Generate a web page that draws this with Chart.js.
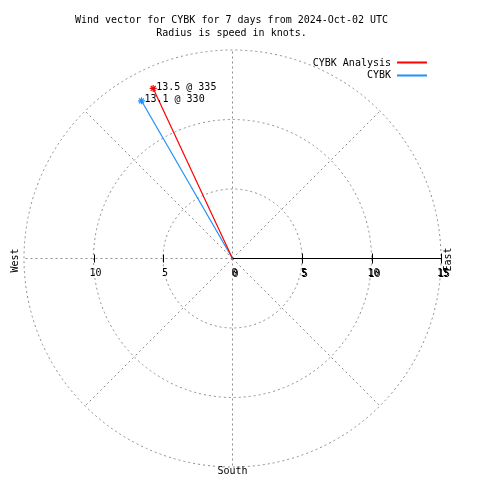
<!DOCTYPE html>
<html lang="en">
<head>
    <meta charset="UTF-8">
    <title>Wind vector for CYBK</title>
    <script src="https://cdn.jsdelivr.net/npm/chart.js"></script>
    <style>
        body { margin: 0; background: #fff; }
    </style>
</head>
<body>
    <canvas id="windChart" width="480" height="480"></canvas>

    <script>
        // Series: speed in knots, direction in degrees
        const seriesNames = ['CYBK Analysis', 'CYBK'];
        const speeds = [13.5, 13.1];
        const directions = [335, 330];
        const seriesColors = ['#ff0000', '#1e90ff'];

        // Rings and axis ticks (knots)
        const rings = [5, 10, 15];
        const westTicks = [10, 5];
        const eastTicks = [0, 5, 10, 15];
        const spokeBearings = [0, 45, 135, 180, 225, 270, 315]; // east (90) is the solid axis

        const titleLines = ['Wind vector for CYBK for 7 days from 2024-Oct-02 UTC', 'Radius is speed in knots.'];

        const FONT = '10px "DejaVu Sans Mono", monospace';

        // bearing -> x/y in knots (north up)
        function toXY(speed, dir) {
            const a = dir * Math.PI / 180;
            return { x: speed * Math.sin(a), y: speed * Math.cos(a) };
        }

        const datasets = seriesNames.map((name, i) => ({
            label: name,
            data: [{ x: 0, y: 0 }, toXY(speeds[i], directions[i])],
            showLine: true,
            borderColor: seriesColors[i],
            backgroundColor: seriesColors[i],
            borderWidth: 1.2,
            pointStyle: 'star',
            pointRadius: [0, 3.5],
            pointBorderWidth: 1.2
        }));

        const polarGrid = {
            id: 'polarGrid',
            beforeDatasetsDraw(chart) {
                const { ctx, scales: { x, y } } = chart;
                const cx = x.getPixelForValue(0), cy = y.getPixelForValue(0);
                const k = x.getPixelForValue(1) - cx;
                ctx.save();
                ctx.lineWidth = 1;
                ctx.strokeStyle = '#8c8c8c';
                ctx.setLineDash([2, 3]);
                rings.forEach(r => {
                    ctx.beginPath();
                    ctx.arc(cx, cy, r * k, 0, Math.PI * 2);
                    ctx.stroke();
                });
                const rMax = rings[rings.length - 1] * k;
                spokeBearings.forEach(b => {
                    const a = b * Math.PI / 180;
                    ctx.beginPath();
                    ctx.moveTo(cx, cy);
                    ctx.lineTo(cx + rMax * Math.sin(a), cy - rMax * Math.cos(a));
                    ctx.stroke();
                });
                ctx.setLineDash([]);

                // solid east axis with ticks
                ctx.strokeStyle = '#000';
                ctx.beginPath();
                ctx.moveTo(cx, cy);
                ctx.lineTo(x.getPixelForValue(15), cy);
                ctx.stroke();
                eastTicks.slice(1).forEach(t => {
                    const px = Math.round(x.getPixelForValue(t)) + 0.5;
                    ctx.beginPath();
                    ctx.moveTo(px, cy - 5);
                    ctx.lineTo(px, cy + 5);
                    ctx.stroke();
                });
                westTicks.forEach(t => {
                    const px = Math.round(x.getPixelForValue(-t)) + 0.5;
                    ctx.beginPath();
                    ctx.moveTo(px, cy - 4);
                    ctx.lineTo(px, cy + 4);
                    ctx.stroke();
                });

                ctx.fillStyle = '#000';
                ctx.font = FONT;
                ctx.textAlign = 'center';
                ctx.textBaseline = 'middle';
                westTicks.forEach(t => ctx.fillText(String(t), x.getPixelForValue(-t) + 2, cy + 15));
                eastTicks.forEach(t => {
                    const px = x.getPixelForValue(t) + 2;
                    ctx.fillText(String(t), px, cy + 15);
                    ctx.fillText(String(t), px + 1, cy + 16);
                });
                ctx.restore();
            },
            afterDraw(chart) {
                const { ctx, scales: { x, y } } = chart;
                const cx = x.getPixelForValue(0), cy = y.getPixelForValue(0);
                ctx.save();
                ctx.fillStyle = '#000';
                ctx.font = FONT;
                ctx.textBaseline = 'middle';

                // title
                ctx.textAlign = 'center';
                ctx.fillText(titleLines[0], 231.5, 20);
                ctx.fillText(titleLines[1], 231.5, 33);

                // compass labels
                ctx.fillText('South', cx, cy + 213);
                ctx.save();
                ctx.translate(15, cy + 2);
                ctx.rotate(-Math.PI / 2);
                ctx.fillText('West', 0, 0);
                ctx.restore();
                ctx.save();
                ctx.translate(448, cy + 1);
                ctx.rotate(-Math.PI / 2);
                ctx.fillText('East', 0, 0);
                ctx.restore();

                // vector end labels
                ctx.textAlign = 'left';
                chart.data.datasets.forEach((ds, i) => {
                    const pt = chart.getDatasetMeta(i).data[1];
                    ctx.fillText(speeds[i].toFixed(1) + ' @ ' + directions[i], pt.x + 3, pt.y - 1);
                });

                // legend: text then line
                chart.data.datasets.forEach((ds, i) => {
                    const ly = 63 + i * 12.5;
                    ctx.textAlign = 'right';
                    ctx.fillText(ds.label, 391, ly);
                    ctx.strokeStyle = ds.borderColor;
                    ctx.lineWidth = 2;
                    ctx.beginPath();
                    ctx.moveTo(397, Math.round(ly) - 0.5);
                    ctx.lineTo(427, Math.round(ly) - 0.5);
                    ctx.stroke();
                });
                ctx.restore();
            }
        };

        const ctx = document.getElementById('windChart').getContext('2d');
        new Chart(ctx, {
            type: 'scatter',
            data: { datasets: datasets },
            options: {
                responsive: false,
                animation: false,
                layout: { padding: { left: 24, right: 39, top: 50, bottom: 13 } },
                scales: {
                    x: { type: 'linear', min: -15, max: 15, display: false },
                    y: { type: 'linear', min: -15, max: 15, display: false }
                },
                plugins: {
                    legend: { display: false },
                    tooltip: { enabled: false }
                }
            },
            plugins: [polarGrid]
        });
    </script>
</body>
</html>
